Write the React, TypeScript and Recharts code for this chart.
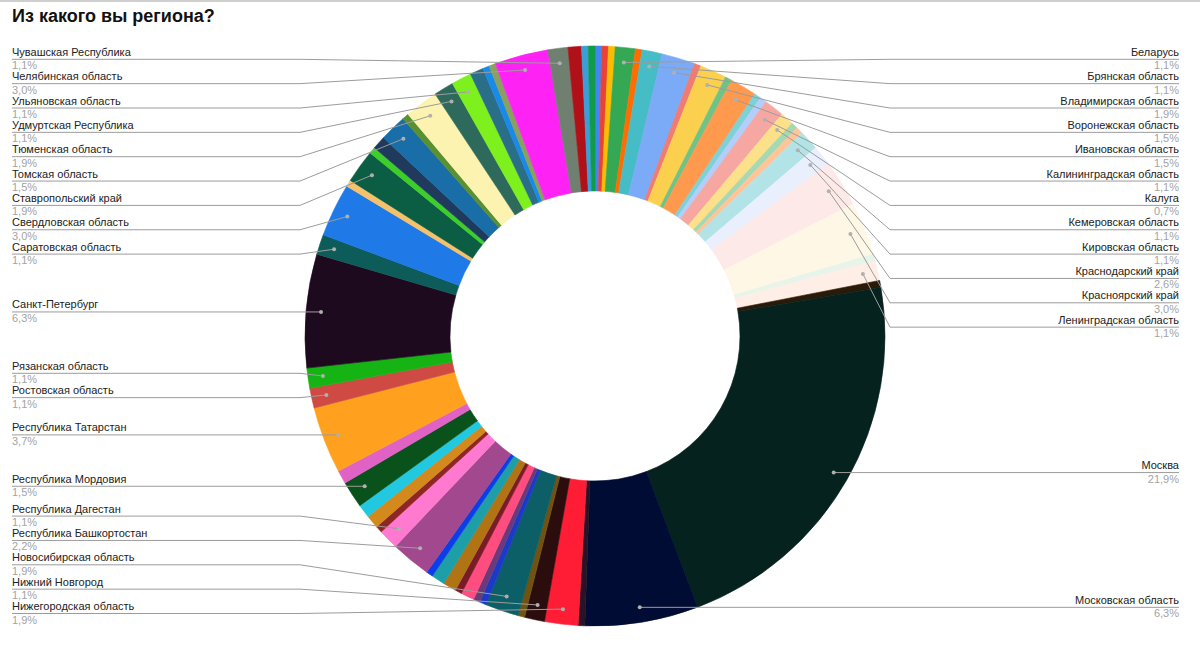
import React from "react";
import { PieChart, Pie, Cell } from "recharts";

// answers per region, in the order the sheet draws them (clockwise from 12 o'clock)
const regions = [
  "Алтайский край", "Архангельская область", "Астраханская область", "Беларусь",
  "Белгородская область", "Брянская область", "Владимирская область", "Волгоградская область",
  "Воронежская область", "Забайкальский край", "Ивановская область", "Иркутская область",
  "Кабардино-Балкарская Республика", "Калининградская область", "Калуга", "Калужская область",
  "Камчатский край", "Кемеровская область", "Кировская область", "Краснодарский край",
  "Красноярский край", "Курганская область", "Ленинградская область", "Липецкая область",
  "Москва", "Московская область", "Мурманская область", "Нижегородская область",
  "Нижний Новгород", "Новгородская область", "Новосибирская область", "Омская область",
  "Оренбургская область", "Орловская область", "Пензенская область", "Пермский край",
  "Приморский край", "Псковская область", "Республика Башкортостан", "Республика Дагестан",
  "Республика Карелия", "Республика Коми", "Республика Крым", "Республика Мордовия",
  "Республика Саха (Якутия)", "Республика Татарстан", "Ростовская область", "Рязанская область",
  "Санкт-Петербург", "Саратовская область", "Свердловская область", "Севастополь",
  "Ставропольский край", "Тамбовская область", "Тверская область", "Томская область",
  "Тульская область", "Тюменская область", "Удмуртская Республика", "Ульяновская область",
  "Хабаровский край", "Ханты-Мансийский АО", "Херсонская область", "Челябинская область",
  "Чувашская Республика", "Ямало-Ненецкий АО", "Ярославль", "Ярославская область",
];

const counts = [
  1, 1, 1, 3,
  1, 3, 5, 1,
  4, 1, 4, 1,
  1, 3, 2, 1,
  1, 3, 3, 7,
  8, 1, 3, 1,
  59, 17, 1, 5,
  3, 1, 5, 1,
  1, 2, 1, 2,
  2, 1, 6, 3,
  1, 2, 2, 4,
  2, 10, 3, 3,
  17, 3, 8, 1,
  5, 1, 2, 4,
  1, 5, 3, 3,
  2, 1, 1, 8,
  3, 2, 1, 1,
];

const colors = [
  "#4285f4", "#ea4335", "#fbbc04", "#34a853",
  "#ff6d01", "#46bdc6", "#7baaf7", "#f07b72",
  "#fcd04f", "#71c287", "#ff994d", "#7ed1d7",
  "#b3cefb", "#f7a7a1", "#fde08a", "#a6d8b4",
  "#ffc599", "#b2e3e7", "#eaeffd", "#fde9e8",
  "#fef7e5", "#e6f4ea", "#feeee6", "#2b1a08",
  "#06221f", "#000c33", "#2a1326", "#ff1d36",
  "#2b0d0d", "#715210", "#0c5f66", "#1b3ac8",
  "#6a3a7a", "#ff4d80", "#7a1c28", "#b07414",
  "#1e9ea6", "#0b3ee8", "#a2488f", "#ff79d0",
  "#8e2626", "#d3891c", "#22c8df", "#0a521c",
  "#e062c4", "#ffa11e", "#cf4a42", "#15b414",
  "#1e0a1e", "#0e5c5a", "#1f7ae8", "#f5c26b",
  "#0b5e43", "#3ccf2a", "#1f3a5c", "#1a6ea8",
  "#5a9030", "#fdf3b0", "#2e6a5c", "#7df01e",
  "#2a6e88", "#1a8ae8", "#8aa060", "#ff22f5",
  "#6f7f70", "#b01018", "#3a9fd8", "#109a4a",
];

// slices that get a callout in the original
const labeledRegions = [
  "Беларусь", "Брянская область", "Владимирская область", "Воронежская область",
  "Ивановская область", "Калининградская область", "Калуга", "Кемеровская область",
  "Кировская область", "Краснодарский край", "Красноярский край", "Ленинградская область",
  "Москва", "Московская область", "Нижегородская область", "Нижний Новгород",
  "Новосибирская область", "Республика Башкортостан", "Республика Дагестан",
  "Республика Мордовия", "Республика Татарстан", "Ростовская область", "Рязанская область",
  "Санкт-Петербург", "Саратовская область", "Свердловская область", "Ставропольский край",
  "Томская область", "Тюменская область", "Удмуртская Республика", "Ульяновская область",
  "Челябинская область", "Чувашская Республика",
];

const chartData = regions.map((name, i) => ({ name, value: counts[i] }));
const TOTAL = counts.reduce((a, b) => a + b, 0);

const CX = 595;
const CY = 336;
const OUTER = 290;
const INNER = 145;
const DOT_INSET = 15;
const RAD = Math.PI / 180;
const FONT = "'Liberation Sans', Arial, sans-serif";

const LINE_GAP = 24.35;
const LINE_MIN = 59.3;
const LINE_MAX = 613.5;
const KNEE_LEFT = 300;
const KNEE_RIGHT = 890;
const TEXT_LEFT = 12;
const TEXT_RIGHT = 1179;

// mid angle of every slice, same convention as recharts (start 90, clockwise)
const midAngles = (() => {
  let acc = 0;
  return counts.map((c) => {
    const mid = 90 - ((acc + c / 2) / TOTAL) * 360;
    acc += c;
    return mid;
  });
})();

const dotOf = (mid: number) => ({
  x: CX + (OUTER - DOT_INSET) * Math.cos(-mid * RAD),
  y: CY + (OUTER - DOT_INSET) * Math.sin(-mid * RAD),
});

// stack callouts per side: overlapping ones are merged into clusters centred on their dots
function spread(items: { i: number; y: number }[]) {
  items.sort((a, b) => a.y - b.y);
  type Cl = { members: { i: number; y: number }[]; top: number };
  const place = (c: Cl) => {
    const n = c.members.length;
    const mean = c.members.reduce((s, m) => s + m.y, 0) / n;
    let top = mean - ((n - 1) * LINE_GAP) / 2;
    top = Math.max(LINE_MIN, Math.min(LINE_MAX - (n - 1) * LINE_GAP, top));
    c.top = top;
  };
  const clusters: Cl[] = items.map((it) => ({ members: [it], top: 0 }));
  clusters.forEach(place);
  let changed = true;
  while (changed) {
    changed = false;
    for (let k = 0; k < clusters.length - 1; k++) {
      const a = clusters[k];
      const b = clusters[k + 1];
      if (a.top + a.members.length * LINE_GAP > b.top + 0.01) {
        const m: Cl = { members: [...a.members, ...b.members], top: 0 };
        place(m);
        clusters.splice(k, 2, m);
        changed = true;
        break;
      }
    }
  }
  const out: Record<number, number> = {};
  clusters.forEach((c) => c.members.forEach((m, j) => (out[m.i] = c.top + j * LINE_GAP)));
  return out;
}

const labelY: Record<number, number> = (() => {
  const left: { i: number; y: number }[] = [];
  const right: { i: number; y: number }[] = [];
  regions.forEach((name, i) => {
    if (!labeledRegions.includes(name)) return;
    const d = dotOf(midAngles[i]);
    (d.x > CX ? right : left).push({ i, y: d.y });
  });
  return { ...spread(left), ...spread(right) };
})();

const renderLabel = (props: any) => {
  const { index, midAngle } = props;
  const name = regions[index];
  if (!labeledRegions.includes(name)) return null;
  const cx = props.cx ?? CX;
  const cy = props.cy ?? CY;
  const r = (props.outerRadius ?? OUTER) - DOT_INSET;
  const dx = cx + r * Math.cos(-midAngle * RAD);
  const dy = cy + r * Math.sin(-midAngle * RAD);
  const right = dx > cx;
  const ly = labelY[index];
  const knee = right ? KNEE_RIGHT : KNEE_LEFT;
  const end = right ? TEXT_RIGHT : TEXT_LEFT;
  const pct = ((counts[index] / TOTAL) * 100).toFixed(1).replace(".", ",") + "%";
  return (
    <g key={`lbl-${index}`}>
      <polyline
        points={`${end},${ly} ${knee},${ly} ${dx},${dy}`}
        fill="none"
        stroke="#9c9c9c"
        strokeWidth={1}
      />
      <circle cx={dx} cy={dy} r={2} fill="#b0b0b0" />
      <text x={end} y={ly - 3.5} textAnchor={right ? "end" : "start"} fontSize={11} fontFamily={FONT} fill="#222">
        {name}
      </text>
      <text x={end} y={ly + 10} textAnchor={right ? "end" : "start"} fontSize={11} fontFamily={FONT} fill="#a3a3a3">
        {pct}
      </text>
    </g>
  );
};

export default function App() {
  return (
    <div style={{ position: "absolute", left: 0, top: 0, width: 1200, height: 649, background: "#fff", overflow: "hidden" }}>
      <div style={{ position: "absolute", left: 0, top: 0, width: 1200, height: 2, background: "#cfcfcf" }} />
      <div
        style={{
          position: "absolute",
          left: 12,
          top: 6,
          fontFamily: FONT,
          fontWeight: 700,
          fontSize: 18,
          color: "#111",
        }}
      >
        Из какого вы региона?
      </div>
      <PieChart width={1200} height={649} margin={{ top: 0, right: 0, bottom: 0, left: 0 }}>
        <Pie
          data={chartData}
          dataKey="value"
          nameKey="name"
          cx={CX}
          cy={CY}
          innerRadius={INNER}
          outerRadius={OUTER}
          startAngle={90}
          endAngle={-270}
          isAnimationActive={false}
          label={renderLabel}
          labelLine={false}
        >
          {chartData.map((d, i) => (
            <Cell key={d.name} fill={colors[i]} stroke={colors[i]} strokeWidth={0.6} />
          ))}
        </Pie>
      </PieChart>
    </div>
  );
}
